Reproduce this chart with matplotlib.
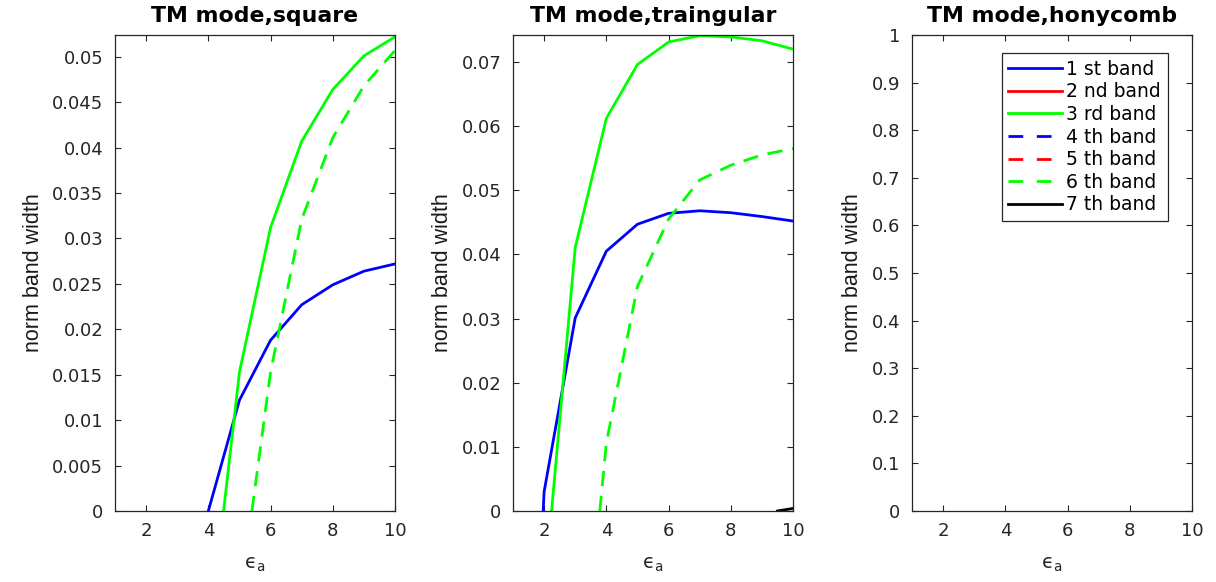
import numpy as np
import matplotlib.pyplot as plt
from matplotlib.ticker import FuncFormatter

plt.rcParams['font.family'] = ['DejaVu Sans']
plt.rcParams['mathtext.fontset'] = 'dejavusans'

# --- data (eps_a vs normalised band width) ---
# square lattice
sq_b1_x = [4.0, 5, 6, 7, 8, 9, 10]
sq_b1_y = [0.0, 0.0122, 0.0188, 0.0227, 0.0249, 0.0264, 0.0272]
sq_b3_x = [4.49, 5, 6, 7, 8, 9, 10]
sq_b3_y = [0.0, 0.0153, 0.0312, 0.0407, 0.0464, 0.0501, 0.0522]
sq_b6_x = [5.4, 6, 7, 8, 9, 10]
sq_b6_y = [0.0, 0.0153, 0.0321, 0.0411, 0.0468, 0.0507]

# triangular lattice
tr_b1_x = [1.97, 2, 3, 4, 5, 6, 7, 8, 9, 10]
tr_b1_y = [0.0, 0.003, 0.0301, 0.0405, 0.0447, 0.0464, 0.0468, 0.0465, 0.0459, 0.0452]
tr_b3_x = [2.24, 3, 4, 5, 6, 7, 8, 9, 10]
tr_b3_y = [0.0, 0.0411, 0.0612, 0.0696, 0.0731, 0.0741, 0.0739, 0.0733, 0.0720]
tr_b6_x = [3.79, 4, 5, 6, 7, 8, 9, 10]
tr_b6_y = [0.0, 0.0106, 0.0350, 0.0455, 0.0516, 0.0539, 0.0555, 0.0565]
tr_b7_x = [9.5, 10]
tr_b7_y = [0.0, 0.0004]

band_labels = ['1 st band', '2 nd band', '3 rd band', '4 th band',
               '5 th band', '6 th band', '7 th band']
band_colors = ['blue', 'red', (0, 1, 0), 'blue', 'red', (0, 1, 0), 'black']
band_styles = ['-', '-', '-', '--', '--', '--', '-']

ylims = [0.0524, 0.0742, 1.0]
yticks = [np.arange(0, 0.0501, 0.005), np.arange(0, 0.0701, 0.01), np.arange(0, 1.01, 0.1)]
titles = ['TM mode,square', 'TM mode,traingular', 'TM mode,honycomb']

W, H = 1216, 582
lefts = [115, 513, 912]
axc = '#262626'
lw = 2.0
green = (0, 1, 0)

fig = plt.figure(figsize=(W / 100, H / 100), dpi=100)
axes = []
for i in range(3):
    ax = fig.add_axes([lefts[i] / W, (H - 511) / H, 280 / W, 476 / H])
    ax.set_xlim(1, 10)
    ax.set_ylim(0, ylims[i])
    ax.set_xticks([2, 4, 6, 8, 10])
    ax.set_yticks(yticks[i])
    ax.yaxis.set_major_formatter(FuncFormatter(lambda v, p: '%g' % round(v, 4)))
    ax.tick_params(direction='in', length=4, width=0.8, colors=axc, labelsize=13,
                   top=True, right=True)
    ax.tick_params(axis='y', pad=8.5)
    ax.tick_params(axis='x', pad=8)
    for s in ax.spines.values():
        s.set_color(axc)
        s.set_linewidth(0.9)
    ax.set_title(titles[i], fontsize=15.8, fontweight='bold', pad=9)
    ax.set_ylabel('norm band width', fontsize=15.5, labelpad=6,
                  family='Liberation Sans', color='#1a1a1a')
    ax.set_xlabel('ϵ$_\\mathregular{a}$', fontsize=14, color=axc, labelpad=11)
    axes.append(ax)

ax1, ax2, ax3 = axes
ax1.plot(sq_b1_x, sq_b1_y, color='blue', lw=lw)
ax1.plot(sq_b3_x, sq_b3_y, color=green, lw=lw)
ax1.plot(sq_b6_x, sq_b6_y, color=green, lw=lw, ls='--', dashes=(5.5, 3.5))

ax2.plot(tr_b1_x, tr_b1_y, color='blue', lw=lw)
ax2.plot(tr_b3_x, tr_b3_y, color=green, lw=lw)
ax2.plot(tr_b6_x, tr_b6_y, color=green, lw=lw, ls='--', dashes=(5.5, 3.5))
ax2.plot(tr_b7_x, tr_b7_y, color='black', lw=lw)

# honeycomb: no band gaps, only the legend
for lab, c, st in zip(band_labels, band_colors, band_styles):
    if st == '--':
        ax3.plot([], [], color=c, lw=lw, ls='--', dashes=(5.3, 4.9), label=lab)
    else:
        ax3.plot([], [], color=c, lw=lw, label=lab)
leg = ax3.legend(loc='upper right', bbox_to_anchor=(0.914, 0.962), fontsize=13.5,
                 frameon=True, fancybox=False, framealpha=1, edgecolor=axc,
                 handlelength=2.85, handletextpad=0.25, labelspacing=0.19,
                 borderpad=0.36, borderaxespad=0)
leg.get_frame().set_linewidth(0.9)

fig.savefig('out.png', dpi=100)
